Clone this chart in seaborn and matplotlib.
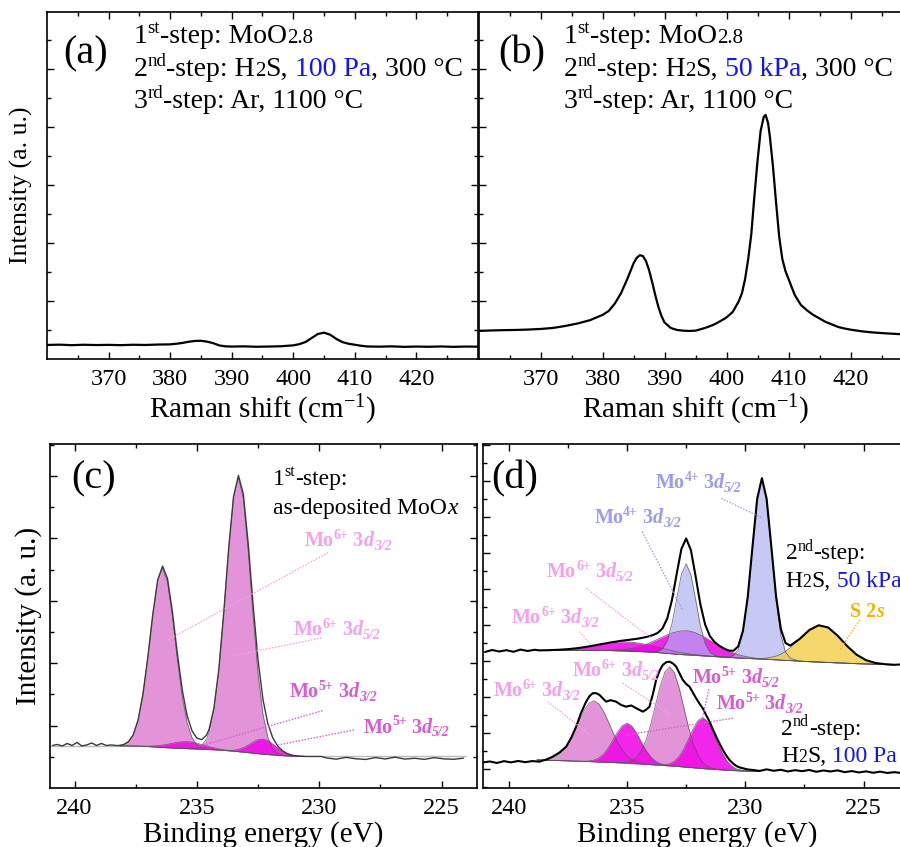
import numpy as np
import matplotlib
matplotlib.use("Agg")
import matplotlib.pyplot as plt
import matplotlib.transforms as mtransforms
from matplotlib.ticker import FixedLocator, NullFormatter
import seaborn as sns

# ---------------- Raman spectra (a) 100 Pa, (b) 50 kPa ----------------
raman_a_shift = [360, 362, 364, 366, 368, 370, 372, 374, 376, 378, 380, 381, 382, 383, 384, 385, 386, 387,
                 388, 389, 390, 392, 394, 396, 398, 400, 401, 402, 403, 404, 405, 406, 407, 408, 409, 410,
                 411, 412, 414, 416, 418, 420, 422, 424, 426, 428, 430]
raman_a_int = [14.0, 14.3, 13.8, 14.2, 13.9, 14.1, 13.8, 14.2, 14.0, 14.4, 14.6, 15.2, 16.0, 17.2, 18.0, 18.2,
               17.3, 15.8, 13.5, 12.6, 12.4, 12.6, 12.2, 12.4, 12.7, 13.6, 14.8, 17.0, 21.0, 25.0, 26.3, 24.2,
               20.0, 16.8, 15.2, 14.2, 13.2, 12.5, 12.3, 12.6, 12.1, 12.4, 12.2, 12.5, 12.1, 12.4, 12.3]

raman_b_shift = [360, 362, 364, 366, 368, 370, 372, 374, 376, 378, 379, 380, 381, 382, 383, 384, 385, 385.5,
                 386, 386.5, 387, 387.5, 388, 388.5, 389, 389.5, 390, 391, 392, 393, 394, 395, 396, 397, 398,
                 399, 400, 401, 402, 402.5, 403, 403.5, 404, 404.5, 405, 405.5, 406, 406.3, 406.7, 407, 407.5,
                 408, 408.5, 409, 409.5, 410, 411, 412, 413, 414, 415, 416, 417, 418, 419, 420, 422, 424, 426,
                 428, 430]
raman_b_int = [28.0, 28.5, 28.8, 29.0, 29.4, 30.0, 31.0, 33.0, 35.5, 38.8, 41.5, 44.0, 48.0, 55.5, 66.0, 80.0,
               95.5, 101.0, 103.7, 103.0, 98.0, 89.0, 77.0, 64.0, 52.3, 43.0, 36.5, 31.0, 29.0, 28.3, 28.0, 28.3,
               30.0, 32.0, 34.5, 37.8, 41.5, 47.0, 58.0, 66.0, 80.0, 100.0, 125.0, 163.0, 198.0, 228.0, 242.0,
               244.0, 236.0, 222.0, 192.0, 156.0, 122.0, 100.0, 88.0, 80.0, 64.0, 54.0, 48.5, 44.0, 40.5, 37.0,
               34.5, 32.0, 30.5, 29.3, 27.5, 26.3, 25.5, 24.8, 24.3]

# ---------------- XPS (c): as-deposited MoOx ----------------
xps_c_energy = [238.2, 238.0, 237.8, 237.6, 237.4, 237.2, 237.0, 236.8, 236.6, 236.4, 236.2, 236.0, 235.8,
                235.6, 235.4, 235.2, 235.0, 234.8, 234.6,
                234.5, 234.3, 234.1, 233.9, 233.7, 233.5, 233.3, 233.1, 232.9, 232.7, 232.5, 232.3, 232.1,
                231.9, 231.7, 231.5, 231.3, 231.1, 230.9, 230.7, 230.5, 230.3, 230.1, 229.9]
xps_c_background = [42.0, 42.0, 42.0, 41.9, 41.8, 41.6, 41.4, 41.1, 40.8, 40.5, 40.2, 40.0, 39.7, 39.5, 39.3,
                    39.1, 38.9, 38.7, 38.5,
                    38.4, 38.2, 37.9, 37.6, 37.2, 36.8, 36.3, 35.8, 35.3, 34.8, 34.3, 33.8, 33.4, 33.0, 32.6,
                    32.3, 32.0, 31.8, 31.7, 31.6, 31.5, 31.5, 31.5, 31.5]
xps_c_mo6_32 = [0.4, 1.3, 4.1, 11.2, 26.1, 52.3, 89.5, 131.6, 165.8, 179.0, 165.8, 131.6, 89.5, 52.3, 26.1,
                11.2, 4.1, 1.3, 0.4] + [0.2] + [0.0] * 23
xps_c_mo6_52 = [0.0] * 15 + [0.3, 1.0, 3.6, 10.6] + \
               [17.1, 40.0, 80.0, 137.0, 201.4, 253.7, 274.0, 253.7, 201.4, 137.0, 80.0, 40.0, 17.1, 6.3,
                2.0, 0.5, 0.1] + [0.0] * 7
xps_c_mo5_32 = [0.0] * 4 + [0.1, 0.2, 0.4, 0.8, 1.5, 2.4, 3.5, 4.7, 5.9, 6.7, 7.0, 6.7, 5.9, 4.7, 3.5] + \
               [2.9, 1.9, 1.1, 0.6, 0.3, 0.1] + [0.0] * 18
xps_c_mo5_52 = [0.0] * 19 + [0.0, 0.0, 0.0, 0.1, 0.3, 0.9, 2.2, 4.4, 7.5, 11.0, 13.9, 15.0, 13.9, 11.0, 7.5,
                             4.4, 2.2, 0.9, 0.3, 0.1, 0.0, 0.0, 0.0, 0.0]
xps_c_tail_left_e = [240.9, 240.7, 240.5, 240.3, 240.1, 239.9, 239.7, 239.5, 239.3, 239.1, 238.9, 238.7, 238.5, 238.3]
xps_c_tail_left_i = [42.5, 43.5, 42.0, 44.5, 42.5, 45.5, 42.0, 43.0, 45.0, 42.5, 44.5, 42.5, 43.0, 42.5]
xps_c_tail_right_e = [229.7, 229.3, 228.9, 228.5, 228.1, 227.7, 227.3, 226.9, 226.5, 226.1, 225.7, 225.3,
                      224.9, 224.5, 224.1]
xps_c_tail_right_i = [30.0, 28.8, 30.6, 29.2, 28.5, 30.4, 29.0, 30.8, 28.9, 29.7, 28.6, 30.3, 29.1, 28.7, 29.8]
xps_c_bg_ext_e = [[241.0, 238.2], [229.9, 224.0]]
xps_c_bg_ext_i = [[42.0, 42.0], [32.0, 32.0]]

# ---------------- XPS (d) upper: H2S 50 kPa ----------------
xps_up_energy = [238.7, 238.3, 237.9, 237.5, 237.1, 236.7,
                 236.5, 236.3, 236.1, 235.9, 235.7, 235.5, 235.3, 235.1, 234.9, 234.7, 234.5, 234.3, 234.1,
                 233.9, 233.7, 233.5, 233.3, 233.1, 232.9, 232.7, 232.5, 232.3, 232.1, 231.9, 231.7, 231.5,
                 231.3, 231.1, 230.9, 230.7, 230.5, 230.3, 230.1, 229.9, 229.7, 229.5, 229.3, 229.1, 228.9,
                 228.7, 228.5, 228.3, 228.1,
                 227.7, 227.3, 226.9, 226.5, 226.1, 225.7, 225.3, 224.9, 224.5, 224.1, 223.7]
xps_up_background = [137.5] * 6 + \
                    [137.5, 137.5, 137.5, 137.4, 137.4, 137.3, 137.2, 137.1, 136.9, 136.7, 136.5, 136.3, 136.1,
                     135.8, 135.4, 135.0, 134.6, 134.2, 133.7, 133.4, 133.2, 132.9, 132.6, 132.3, 132.0, 131.7,
                     131.4, 131.1, 130.9, 130.6, 130.3, 130.0, 129.8, 129.6, 129.3, 129.0, 128.8, 128.6, 128.4,
                     128.1, 127.8, 127.6, 127.4] + \
                    [126.8, 126.3, 125.9, 125.5, 125.1, 124.7, 124.3, 124.0, 123.7, 123.4, 123.1]
xps_up_mo6_32 = [0.1, 0.3, 0.7, 1.3, 2.3, 3.7] + \
                [4.5, 5.3, 6.2, 7.0, 7.7, 8.3, 8.8, 9.0, 9.0, 8.8, 8.3, 7.7, 7.0, 6.2, 5.3, 4.5, 3.7, 3.0,
                 2.3, 1.8, 1.3, 1.0, 0.7, 0.5, 0.3, 0.2, 0.1, 0.1] + [0.0] * 15 + [0.0] * 11
xps_up_mo6_52 = [0.0] * 6 + \
                [0.0, 0.1, 0.1, 0.2, 0.4, 0.6, 1.0, 1.5, 2.3, 3.3, 4.7, 6.4, 8.4, 10.8, 13.3, 15.9, 18.5,
                 20.7, 22.5, 23.6, 24.0, 23.6, 22.5, 20.7, 18.5, 15.9, 13.3, 10.8, 8.4, 6.4, 4.7, 3.3, 2.3,
                 1.5, 1.0, 0.6, 0.4, 0.2, 0.1, 0.0, 0.0, 0.0, 0.0] + [0.0] * 11
xps_up_mo4_32 = [0.0] * 6 + [0.0] * 13 + \
                [0.2, 1.1, 4.2, 12.7, 30.1, 55.7, 80.4, 91.0, 80.4, 55.7, 30.1, 12.7, 4.2, 1.1, 0.2] + \
                [0.0] * 15 + [0.0] * 11
xps_up_mo4_52 = [0.0] * 6 + [0.0] * 28 + \
                [0.1, 0.4, 2.2, 8.3, 25.2, 59.6, 110.2, 159.1, 180.0, 159.1, 110.2, 59.6, 25.2, 8.3, 2.2] + \
                [0.1] + [0.0] * 10
xps_up_s2s = [0.0] * 6 + [0.0] * 34 + [0.2, 0.4, 0.7, 1.3, 2.3, 3.8, 6.0, 9.0, 12.8] + \
             [22.2, 31.6, 36.8, 35.0, 27.2, 17.3, 9.0, 3.8, 1.3, 0.4, 0.1]
xps_up_tail_left_e = [241.0, 240.7, 240.4, 240.1, 239.8, 239.5, 239.2, 238.9]
xps_up_tail_left_i = [136.0, 138.0, 136.5, 137.8, 136.2, 138.4, 137.0, 138.2]
xps_up_tail_right_e = [223.4, 223.1, 222.8]
xps_up_tail_right_i = [123.5, 122.4, 123.0]

# ---------------- XPS (d) lower: H2S 100 Pa ----------------
xps_lo_energy = [238.8, 238.6, 238.4, 238.2, 238.0, 237.8, 237.6, 237.4, 237.2, 237.0, 236.8, 236.6, 236.4,
                 236.2, 236.0, 235.8, 235.6, 235.4, 235.2, 235.0, 234.8, 234.6, 234.4, 234.2, 234.0, 233.8,
                 233.6, 233.4, 233.2, 233.0, 232.8, 232.6, 232.4, 232.2, 232.0, 231.8, 231.6, 231.4, 231.2,
                 231.0, 230.8, 230.6, 230.4, 230.2, 230.0, 229.8, 229.6, 229.4]
xps_lo_background = [28.0, 27.9, 27.7, 27.6, 27.5, 27.3, 27.2, 27.0, 26.8, 26.7, 26.5, 26.4, 26.2, 26.0, 25.8,
                     25.6, 25.4, 25.2, 25.0, 24.8, 24.5, 24.2, 23.9, 23.6, 23.3, 23.0, 22.7, 22.4, 22.1, 21.8,
                     21.4, 21.0, 20.6, 20.2, 19.8, 19.4, 19.0, 18.7, 18.4, 18.1, 17.8, 17.5, 17.3, 17.1, 16.9,
                     16.7, 16.6, 16.5]
xps_lo_mo6_32 = [0.1, 0.3, 0.8, 1.8, 3.8, 7.3, 12.8, 20.7, 30.5, 41.3, 51.3, 58.4, 61.0, 58.4, 51.3, 41.3, 30.5,
                 20.7, 12.8, 7.3, 3.8, 1.8, 0.8, 0.3, 0.1] + [0.0] * 23
xps_lo_mo5_32 = [0.0] * 10 + [0.2, 0.6, 1.6, 3.8, 7.8, 14.0, 22.2, 30.8, 37.4, 40.0, 37.4, 30.8, 22.2, 14.0,
                              7.8, 3.8, 1.6, 0.6, 0.2] + [0.0] * 19
xps_lo_mo6_52 = [0.0] * 18 + [0.3, 1.0, 2.7, 6.2, 12.9, 24.1, 40.0, 59.5, 78.9, 93.6, 99.0, 93.6, 78.9, 59.5,
                              40.0, 24.1, 12.9, 6.2, 2.7, 1.0, 0.3] + [0.0] * 9
xps_lo_mo5_52 = [0.0] * 26 + [0.3, 0.8, 2.0, 4.8, 9.9, 17.9, 28.3, 39.2, 47.7, 51.0, 47.7, 39.2, 28.3, 17.9,
                              9.9, 4.8, 2.0, 0.8, 0.3, 0.0, 0.0, 0.0]
xps_lo_data_e = [241.1, 240.8, 240.5, 240.2, 239.9, 239.6, 239.3, 239.0, 238.7, 238.4, 238.14, 237.85, 237.57,
                 237.35, 237.15, 236.95, 236.73, 236.58, 236.45, 236.3, 236.16, 236.02, 235.88, 235.7, 235.46,
                 235.25, 235.04, 234.82, 234.61, 234.47, 234.33, 234.18, 234.05, 233.9, 233.77, 233.62, 233.49,
                 233.34, 233.2, 233.06, 232.92, 232.78, 232.64, 232.5, 232.36, 232.22, 232.08, 231.94, 231.8,
                 231.66, 231.51, 231.37, 231.23, 231.09, 230.95, 230.81, 230.67, 230.52, 230.38, 230.24, 230.1,
                 229.9, 229.68, 229.4, 229.1, 228.8, 228.5, 228.2, 227.9, 227.6, 227.3, 227.0, 226.7, 226.4,
                 226.1, 225.8, 225.5, 225.2, 224.9, 224.6, 224.3, 224.0, 223.7, 223.4, 223.1, 222.8]
xps_lo_data_i = [25.5, 26.5, 25.0, 26.8, 25.6, 27.0, 25.8, 26.9, 26.3, 28.5, 31.3, 35.5, 41.3, 50.5, 61.3, 74.5,
                 86.3, 92.0, 94.7, 94.8, 93.0, 89.5, 86.3, 87.8, 86.3, 83.0, 81.3, 82.5, 79.7, 78.0, 76.3, 78.5,
                 81.3, 94.5, 108.0, 117.5, 123.0, 125.8, 126.3, 124.5, 121.3, 114.5, 108.0, 104.0, 101.3, 95.5,
                 89.7, 84.5, 79.7, 73.0, 66.3, 58.5, 51.3, 44.5, 38.0, 32.5, 28.0, 24.5, 22.0, 20.5, 19.7, 18.5,
                 18.0, 17.0, 18.6, 17.2, 18.2, 16.5, 17.8, 16.8, 18.0, 16.2, 17.5, 16.5, 17.6, 15.8, 16.9, 15.5,
                 16.6, 15.2, 16.3, 15.0, 15.8, 14.9, 15.4, 14.8]

# colours
PINK = (205 / 255, 60 / 255, 185 / 255)
MAGENTA = (240 / 255, 0.0, 232 / 255)
LAVENDER = (174 / 255, 174 / 255, 240 / 255)
GOLD = (243 / 255, 205 / 255, 70 / 255)
PINK_TXT = "#F5A0EB"
MAG_TXT = "#D85CCD"
LAV_TXT = "#9C9CEC"
GOLD_TXT = "#F5B400"
BLUE = "#1414F0"

sns.set_theme(style="ticks")
plt.rcParams["font.family"] = ["Liberation Serif", "DejaVu Serif"]
plt.rcParams["mathtext.fontset"] = "custom"
plt.rcParams["mathtext.rm"] = "Liberation Serif"
plt.rcParams["mathtext.it"] = "Liberation Serif:italic"
plt.rcParams["mathtext.bf"] = "Liberation Serif:bold"
for key in ["text.color", "axes.labelcolor", "xtick.color", "ytick.color", "axes.edgecolor"]:
    plt.rcParams[key] = "black"

fig = plt.figure(figsize=(9.0, 8.47), dpi=100)
ax_a = fig.add_axes([0.0522, 0.5762, 0.4789, 0.4097])
ax_b = fig.add_axes([0.5317, 0.5762, 0.4822, 0.4097])
ax_c = fig.add_axes([0.0556, 0.0697, 0.4744, 0.4061])
ax_d = fig.add_axes([0.5363, 0.0697, 0.4759, 0.4061])


def rich_text(ax, x, y, parts, size, color="black", weight="normal"):
    # draw text pieces one after another (super/subscripts, colours)
    renderer = fig.canvas.get_renderer()
    dx = 0.0
    for part in parts:
        s = part[0]
        kind = part[1] if len(part) > 1 else ""
        c = part[2] if len(part) > 2 else color
        fs, dy, style = size, 0.0, "normal"
        if "sup" in kind:
            fs, dy = size * 0.68, size * 0.36
        if "sub" in kind:
            fs, dy = size * 0.68, -size * 0.18
        if "small" in kind:
            fs = size * 0.75
        if "it" in kind:
            style = "italic"
        tr = mtransforms.offset_copy(ax.transData, fig=fig, x=dx, y=dy, units="points")
        t = ax.text(x, y, s, transform=tr, fontsize=fs, color=c, fontweight=weight,
                    fontstyle=style, ha="left", va="baseline")
        dx += t.get_window_extent(renderer).width * 72.0 / fig.dpi


def peak_label(ax, x, y, ion, level, color, leader):
    rich_text(ax, x, y, [("Mo",), (ion, "sup"), (" 3",), ("d", "it"), (level, "sub it")],
              14.5, color=color, weight="bold")
    ax.plot(leader[0], leader[1], color=color, lw=1.0, ls=(0, (1, 1.2)))


def style_axes(ax, xmaj, xmin, ymaj, ymin):
    ax.xaxis.set_major_locator(FixedLocator(xmaj))
    ax.xaxis.set_minor_locator(FixedLocator(xmin))
    ax.yaxis.set_major_locator(FixedLocator(ymaj))
    ax.yaxis.set_minor_locator(FixedLocator(ymin))
    ax.yaxis.set_major_formatter(NullFormatter())
    ax.tick_params(which="both", direction="in", top=True, right=True, labelsize=17.5, pad=7.5)
    ax.tick_params(which="major", length=5, width=1.0)
    ax.tick_params(which="minor", length=3, width=1.0)
    for sp in ax.spines.values():
        sp.set_linewidth(1.2)


def fill_component(ax, energy, base, comp, color, alpha):
    base = np.asarray(base)
    top = base + np.asarray(comp)
    ax.fill_between(energy, base, top, color=color, alpha=alpha, lw=0)
    ax.plot(energy, top, color="#555555", lw=0.6, alpha=0.8)


# ---- (a) ----
sns.lineplot(x=raman_a_shift, y=raman_a_int, ax=ax_a, color="black", lw=1.6, estimator=None, sort=False)
# ---- (b) ----
sns.lineplot(x=raman_b_shift, y=raman_b_int, ax=ax_b, color="black", lw=1.6, estimator=None, sort=False)

for ax, lab, pres in [(ax_a, "(a)", " 100 Pa"), (ax_b, "(b)", " 50 kPa")]:
    ax.set_xlim(360, 430)
    ax.set_ylim(0, 347)
    style_axes(ax, [370, 380, 390, 400, 410, 420], [365, 375, 385, 395, 405, 415, 425],
               [58, 116, 174, 232, 290], [29, 87, 145, 203, 261, 319])
    ax.set_xlabel("Raman shift (cm$^{-1}$)", fontsize=21)
    ax.xaxis.set_label_coords(0.5, -0.097)
    ax.set_ylabel("")
    x0 = 362.7 if lab == "(a)" else 363.2
    x1 = 374.05 if lab == "(a)" else 373.76
    ax.text(x0, 295.7, lab, fontsize=29, ha="left", va="baseline")
    rich_text(ax, x1, 315.7, [("1",), ("st", "sup"), ("-step: MoO",), ("2.8", "small")], 20)
    rich_text(ax, x1, 283.0, [("2",), ("nd", "sup"), ("-step: H",), ("2", "small"), ("S,",),
                              (pres, "", BLUE), (", 300 °C",)], 20)
    rich_text(ax, x1, 250.7, [("3",), ("rd", "sup"), ("-step: Ar, 1100 °C",)], 20)

ax_a.set_ylabel("Intensity (a. u.)", fontsize=18.5)
ax_a.yaxis.set_label_coords(-0.033, 0.5)

# ---- (c) ----
c_env = np.asarray(xps_c_background) + np.asarray(xps_c_mo6_32) + np.asarray(xps_c_mo6_52) + \
        np.asarray(xps_c_mo5_32) + np.asarray(xps_c_mo5_52)
fill_component(ax_c, xps_c_energy, xps_c_background, xps_c_mo6_32, PINK, 0.55)
fill_component(ax_c, xps_c_energy, xps_c_background, xps_c_mo6_52, PINK, 0.55)
fill_component(ax_c, xps_c_energy, xps_c_background, xps_c_mo5_32, MAGENTA, 0.85)
fill_component(ax_c, xps_c_energy, xps_c_background, xps_c_mo5_52, MAGENTA, 0.85)
for e, i in zip(xps_c_bg_ext_e, xps_c_bg_ext_i):
    ax_c.plot(e, i, color="#BBBBBB", lw=1.0)
c_data_e = np.concatenate([xps_c_tail_left_e, xps_c_energy, xps_c_tail_right_e])
c_data_i = np.concatenate([xps_c_tail_left_i, c_env, xps_c_tail_right_i])
sns.lineplot(x=c_data_e, y=c_data_i, ax=ax_c, color="#3A3A3A", lw=1.0, estimator=None, sort=False)

ax_c.set_xlim(241.0, 223.55)
ax_c.set_ylim(0, 344)
style_axes(ax_c, [240, 235, 230, 225], [237.5, 232.5, 227.5],
           [62.4, 124.8, 187.2, 249.6, 312.0], [31.2, 93.6, 156.0, 218.4, 280.8, 343.2])
ax_c.set_xlabel("Binding energy (eV)", fontsize=21)
ax_c.xaxis.set_label_coords(0.5, -0.095)
ax_c.set_ylabel("Intensity (a. u.)", fontsize=21)
ax_c.yaxis.set_label_coords(-0.019, 0.5)
ax_c.text(240.13, 299.7, "(c)", fontsize=29, ha="left", va="baseline")
rich_text(ax_c, 231.89, 303.0, [("1",), ("st", "sup"), ("-step:",)], 17)
rich_text(ax_c, 231.89, 274.0, [("as-deposited MoO",), ("x", "it")], 17)
peak_label(ax_c, 230.59, 242.0, "6+", "3/2", PINK_TXT, ([229.64, 236.25], [235.3, 147.3]))
peak_label(ax_c, 231.03, 153.0, "6+", "5/2", PINK_TXT, ([229.91, 233.59], [150.0, 132.0]))
peak_label(ax_c, 231.20, 90.7, "5+", "3/2", MAG_TXT, ([229.87, 234.95], [77.3, 41.3]))
peak_label(ax_c, 228.20, 55.3, "5+", "5/2", MAG_TXT, ([228.58, 231.68], [58.0, 43.0]))

# ---- (d) upper ----
up_env = np.asarray(xps_up_background) + np.asarray(xps_up_mo6_32) + np.asarray(xps_up_mo6_52) + \
         np.asarray(xps_up_mo4_32) + np.asarray(xps_up_mo4_52) + np.asarray(xps_up_s2s)
fill_component(ax_d, xps_up_energy, xps_up_background, xps_up_mo6_32, MAGENTA, 0.85)
fill_component(ax_d, xps_up_energy, xps_up_background, xps_up_mo6_52, MAGENTA, 0.85)
fill_component(ax_d, xps_up_energy, xps_up_background, xps_up_mo4_32, LAVENDER, 0.68)
fill_component(ax_d, xps_up_energy, xps_up_background, xps_up_mo4_52, LAVENDER, 0.68)
fill_component(ax_d, xps_up_energy, xps_up_background, xps_up_s2s, GOLD, 0.8)
up_data_e = np.concatenate([xps_up_tail_left_e, xps_up_energy, xps_up_tail_right_e])
up_data_i = np.concatenate([xps_up_tail_left_i, up_env, xps_up_tail_right_i])
sns.lineplot(x=up_data_e, y=up_data_i, ax=ax_d, color="black", lw=1.5, estimator=None, sort=False)

# ---- (d) lower ----
fill_component(ax_d, xps_lo_energy, xps_lo_background, xps_lo_mo6_32, PINK, 0.55)
fill_component(ax_d, xps_lo_energy, xps_lo_background, xps_lo_mo6_52, PINK, 0.55)
fill_component(ax_d, xps_lo_energy, xps_lo_background, xps_lo_mo5_32, MAGENTA, 0.85)
fill_component(ax_d, xps_lo_energy, xps_lo_background, xps_lo_mo5_52, MAGENTA, 0.85)
sns.lineplot(x=xps_lo_data_e, y=xps_lo_data_i, ax=ax_d, color="black", lw=1.5, estimator=None, sort=False)

ax_d.set_xlim(241.1, 223.0)
ax_d.set_ylim(0, 344)
style_axes(ax_d, [240, 235, 230, 225], [237.5, 232.5, 227.5],
           [18.7 + 36 * k for k in range(10)], [0.7 + 36 * k for k in range(10)])
ax_d.set_xlabel("Binding energy (eV)", fontsize=21)
ax_d.xaxis.set_label_coords(0.5, -0.095)
ax_d.set_ylabel("")
ax_d.text(240.74, 299.7, "(d)", fontsize=29, ha="left", va="baseline")
peak_label(ax_d, 233.80, 299.7, "4+", "5/2", LAV_TXT, ([231.02, 229.26], [289.7, 269.7]))
peak_label(ax_d, 236.38, 264.7, "4+", "3/2", LAV_TXT, ([234.36, 232.64], [256.3, 177.3]))
peak_label(ax_d, 238.38, 210.7, "6+", "5/2", PINK_TXT, ([236.73, 233.98], [199.7, 149.7]))
peak_label(ax_d, 239.86, 164.7, "6+", "3/2", PINK_TXT, ([237.01, 236.52], [156.3, 143.0]))
rich_text(ax_d, 225.59, 171.3, [("S 2",), ("s", "it")], 14.5, color=GOLD_TXT, weight="bold")
ax_d.plot([225.17, 226.02], [168.0, 138.0], color=GOLD_TXT, lw=1.0, ls=(0, (1, 1.2)))
rich_text(ax_d, 228.30, 228.7, [("2",), ("nd", "sup"), ("-step:",)], 17)
rich_text(ax_d, 228.30, 201.3, [("H",), ("2", "small"), ("S,",), (" 50 kPa", "", BLUE)], 17)

peak_label(ax_d, 237.29, 112.0, "6+", "5/2", PINK_TXT, ([235.18, 233.13], [104.7, 73.0]))
peak_label(ax_d, 240.65, 92.0, "6+", "3/2", PINK_TXT, ([238.35, 236.52], [86.3, 52.0]))
peak_label(ax_d, 232.22, 104.7, "5+", "5/2", MAG_TXT, ([231.54, 231.80], [98.7, 71.3]))
peak_label(ax_d, 231.23, 78.7, "5+", "3/2", MAG_TXT, ([230.53, 235.04], [69.7, 53.0]))
rich_text(ax_d, 228.48, 53.0, [("2",), ("nd", "sup"), ("-step:",)], 17)
rich_text(ax_d, 228.48, 26.3, [("H",), ("2", "small"), ("S,",), (" 100 Pa", "", BLUE)], 17)

fig.savefig("out.png", dpi=100)
